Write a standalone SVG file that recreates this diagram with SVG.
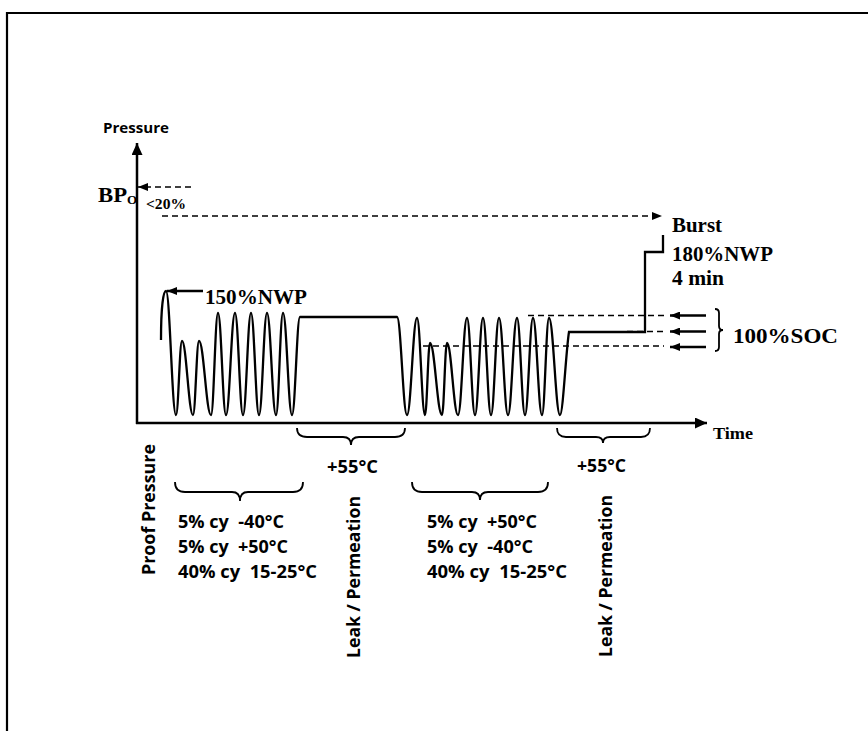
<svg xmlns="http://www.w3.org/2000/svg" width="868" height="731" viewBox="0 0 868 731">
<defs>
<style>
.ln{fill:none;stroke:#000;stroke-width:2.3}
.ax{fill:none;stroke:#000;stroke-width:2.5}
.dash{fill:none;stroke:#000;stroke-width:1.6;stroke-dasharray:6 4}
.br{fill:none;stroke:#000;stroke-width:1.8}
.serif{font-family:"Liberation Serif","Times New Roman",serif;font-weight:bold;fill:#000}
.sans{font-family:"Open Sans","Liberation Sans",Arial,sans-serif;font-weight:bold;fill:#000}
</style>
<marker id="ah" viewBox="0 0 10 8" refX="10" refY="4" markerWidth="10" markerHeight="8" orient="auto" markerUnits="userSpaceOnUse"><path d="M0,0 L10,4 L0,8 z" fill="#000"/></marker>
<marker id="ahBig" viewBox="0 0 12 11" refX="12" refY="5.5" markerWidth="12" markerHeight="11" orient="auto" markerUnits="userSpaceOnUse"><path d="M0,0 L12,5.5 L0,11 z" fill="#000"/></marker>
</defs>
<rect width="868" height="731" fill="#fff"/>
<path d="M7,731 L7,13 L868,13" fill="none" stroke="#000" stroke-width="2.2"/>

<g id="axes">
<line class="ax" x1="137" y1="424" x2="137" y2="143" marker-end="url(#ahBig)"/>
<line class="ax" x1="136" y1="423" x2="707" y2="423" marker-end="url(#ahBig)"/>
<text class="sans" x="103" y="133" font-size="14" textLength="66" lengthAdjust="spacingAndGlyphs">Pressure</text>
<text class="serif" x="713" y="439" font-size="17" textLength="40" lengthAdjust="spacingAndGlyphs">Time</text>
</g>

<g id="waveform">
<path class="ln" d="M161,340 C161,310 163,291 166,291 C170,291 172,415 176,415 C178.4,415 179.6,341 182,341 C186.4,341 188.6,415 193,415 C195.4,415 196.6,341 199,341 C203.8,341 206.2,415 211,415 C213.8,415 215.2,313 218,313 C221.2,313 222.8,415 226,415 C229.6,415 231.4,313 235,313 C238.2,313 239.8,415 243,415 C246.2,415 247.8,313 251,313 C254.2,313 255.8,415 259,415 C262.2,415 263.8,313 267,313 C270.6,313 272.4,415 276,415 C278.8,415 280.2,313 283,313 C286.6,313 288.4,415 292,415 C295.2,415 296.8,317 300,317 L397,317 C401,317 403,415 407,415 C411,415 413,318 417,318 C420.2,318 421.8,415 425,415 C427,415 428,343 430,343 C434.8,343 437.2,415 442,415 C444,415 445,343 447,343 C451.4,343 453.6,415 458,415 C461.6,415 463.4,318 467,318 C470.2,318 471.8,415 475,415 C478.2,415 479.8,318 483,318 C486.2,318 487.8,415 491,415 C494.2,415 495.8,318 499,318 C502.6,318 504.4,415 508,415 C511.6,415 513.4,318 517,318 C520.2,318 521.8,415 525,415 C528.2,415 529.8,318 533,318 C536.6,318 538.4,415 542,415 C544.8,415 546.2,318 549,318 C553.4,318 555.6,415 560,415 C563,415 566,350 569,332 L645,332 L645,252 L663,252 L663,235"/>
</g>

<g id="connectors">
<line class="dash" x1="191" y1="187" x2="138" y2="187" marker-end="url(#ah)"/>
<line class="dash" x1="162" y1="216" x2="662" y2="216" marker-end="url(#ah)"/>
<line class="ln" x1="203" y1="291" x2="167" y2="291" marker-end="url(#ah)"/>
<line class="dash" x1="528" y1="315.5" x2="667" y2="315.5"/>
<line class="dash" x1="627" y1="331.5" x2="667" y2="331.5"/>
<line class="dash" x1="423" y1="346" x2="664" y2="346"/>
<line class="ln" x1="706" y1="315.5" x2="670" y2="315.5" marker-end="url(#ah)"/>
<line class="ln" x1="706" y1="331.5" x2="670" y2="331.5" marker-end="url(#ah)"/>
<line class="ln" x1="706" y1="347" x2="670" y2="347" marker-end="url(#ah)"/>
</g>

<g id="bp-label">
<text class="serif" x="98" y="202" font-size="20" textLength="29" lengthAdjust="spacingAndGlyphs">BP</text>
<text class="serif" x="127" y="204" font-size="13">O</text>
<text class="serif" x="146" y="209" font-size="14" textLength="40" lengthAdjust="spacingAndGlyphs">&lt;20%</text>
</g>

<g id="burst-label">
<text class="serif" x="672" y="232" font-size="21" textLength="50" lengthAdjust="spacingAndGlyphs">Burst</text>
<text class="serif" x="672" y="261" font-size="21" textLength="101" lengthAdjust="spacingAndGlyphs">180%NWP</text>
<text class="serif" x="672" y="285" font-size="21" textLength="52" lengthAdjust="spacingAndGlyphs">4 min</text>
</g>

<g id="nwp150-label">
<text class="serif" x="205" y="304" font-size="21" textLength="102" lengthAdjust="spacingAndGlyphs">150%NWP</text>
</g>

<g id="soc-label">
<path class="br" d="M715,309 Q719,309 719,313 L719,326 Q719,330 723,330 Q719,330 719,334 L719,347 Q719,351 715,351"/>
<text class="serif" x="733" y="343" font-size="21" textLength="105" lengthAdjust="spacingAndGlyphs">100%SOC</text>
</g>

<g id="proof-pressure">
<text class="sans" transform="translate(155,575) rotate(-90)" font-size="18" textLength="131" lengthAdjust="spacingAndGlyphs">Proof Pressure</text>
</g>

<g id="cycles-1">
<path class="br" d="M175,482 Q175,492 185,492 L232,492 Q240,492 240,501 Q240,492 248,492 L293,492 Q303,492 303,482"/>
<text class="sans" x="178" y="528" font-size="18" xml:space="preserve" textLength="106" lengthAdjust="spacingAndGlyphs">5% cy  -40°C</text>
<text class="sans" x="178" y="553" font-size="18" xml:space="preserve" textLength="110" lengthAdjust="spacingAndGlyphs">5% cy  +50°C</text>
<text class="sans" x="178" y="578" font-size="18" xml:space="preserve" textLength="139" lengthAdjust="spacingAndGlyphs">40% cy  15-25°C</text>
</g>

<g id="leak-1">
<path class="br" d="M297,428 Q297,437 307,437 L343,437 Q351,437 351,445 Q351,437 359,437 L395,437 Q405,437 405,428"/>
<text class="sans" x="327" y="473" font-size="18" textLength="51" lengthAdjust="spacingAndGlyphs">+55°C</text>
<text class="sans" transform="translate(360,658) rotate(-90)" font-size="18" textLength="162" lengthAdjust="spacingAndGlyphs">Leak / Permeation</text>
</g>

<g id="cycles-2">
<path class="br" d="M412,482 Q412,492 422,492 L472,492 Q480,492 480,500 Q480,492 488,492 L538,492 Q548,492 548,482"/>
<text class="sans" x="427" y="528" font-size="18" xml:space="preserve" textLength="110" lengthAdjust="spacingAndGlyphs">5% cy  +50°C</text>
<text class="sans" x="427" y="553" font-size="18" xml:space="preserve" textLength="106" lengthAdjust="spacingAndGlyphs">5% cy  -40°C</text>
<text class="sans" x="427" y="578" font-size="18" xml:space="preserve" textLength="140" lengthAdjust="spacingAndGlyphs">40% cy  15-25°C</text>
</g>

<g id="leak-2">
<path class="br" d="M557,428 Q557,437 566,437 L596,437 Q603,437 603,443 Q603,437 610,437 L641,437 Q650,437 650,428"/>
<text class="sans" x="577" y="472" font-size="18" textLength="49" lengthAdjust="spacingAndGlyphs">+55°C</text>
<text class="sans" transform="translate(612,657) rotate(-90)" font-size="18" textLength="162" lengthAdjust="spacingAndGlyphs">Leak / Permeation</text>
</g>
</svg>
